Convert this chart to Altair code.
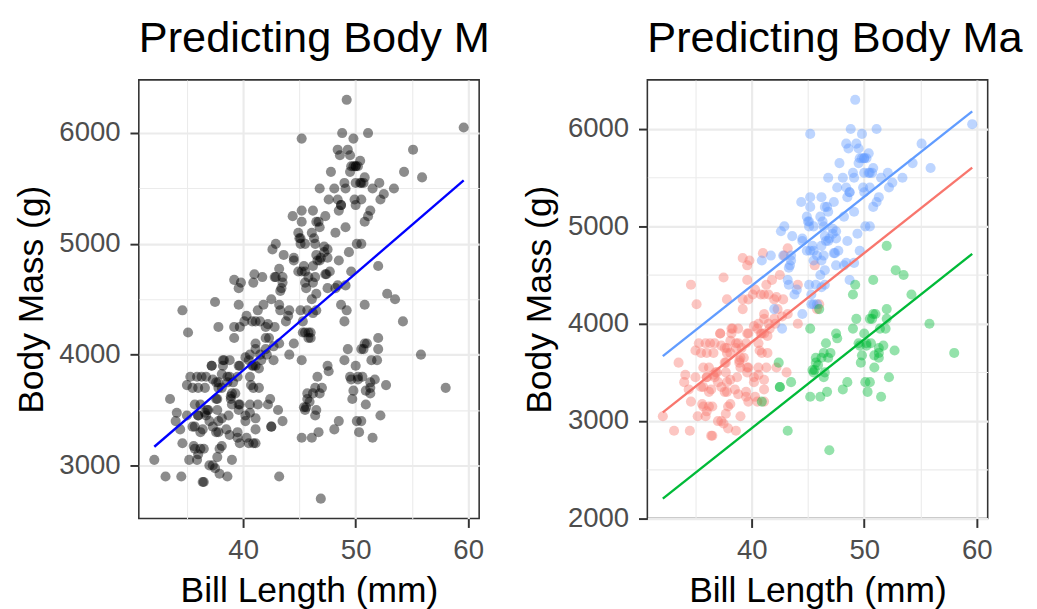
import altair as alt
import pandas as pd
import numpy as np

TITLE = "Predicting Body Mass from Bill Length"
X_TITLE = "Bill Length (mm)"
Y_TITLE = "Body Mass (g)"
FONT = "Liberation Sans"

species_names = ["Adelie", "Chinstrap", "Gentoo"]
species_colors = ["#F8766D", "#00BA38", "#619CFF"]

adelie_bill = [39.1, 39.5, 40.3, 36.7, 39.3, 38.9, 39.2, 34.1, 42.0, 37.8, 37.8, 41.1, 38.6, 34.6, 36.6, 38.7,
               42.5, 34.4, 46.0, 37.8, 37.7, 35.9, 38.2, 38.8, 35.3, 40.6, 40.5, 37.9, 40.5, 39.5, 37.2, 39.5,
               40.9, 36.4, 39.2, 38.8, 42.2, 37.6, 39.8, 36.5, 40.8, 36.0, 44.1, 37.0, 39.6, 41.1, 37.5, 36.0,
               42.3, 39.6, 40.1, 35.0, 42.0, 34.5, 41.4, 39.0, 40.6, 36.5, 37.6, 35.7, 41.3, 37.6, 41.1, 36.4,
               41.6, 35.5, 41.1, 35.9, 41.8, 33.5, 39.7, 39.6, 45.8, 35.5, 42.8, 40.9, 37.2, 36.2, 42.1, 34.6,
               42.9, 36.7, 35.1, 37.3, 41.3, 36.3, 36.9, 38.3, 38.9, 35.7, 41.1, 34.0, 39.6, 36.2, 40.8, 38.1,
               40.3, 33.1, 43.2, 35.0, 41.0, 37.7, 37.8, 37.9, 39.7, 38.6, 38.2, 38.1, 43.2, 38.1, 45.6, 39.7,
               42.2, 39.6, 42.7, 38.6, 37.3, 35.7, 41.1, 36.2, 37.7, 40.2, 41.4, 35.2, 40.6, 38.8, 41.5, 39.0,
               44.1, 38.5, 43.1, 36.8, 37.5, 38.1, 41.1, 35.6, 40.2, 37.0, 39.7, 40.2, 40.6, 32.1, 40.7, 37.3,
               39.0, 39.2, 36.6, 36.0, 37.8, 36.0, 41.5]
adelie_mass = [3750, 3800, 3250, 3450, 3650, 3625, 4675, 3475, 4250, 3300, 3700, 3200, 3800, 4400, 3700, 3450,
               4500, 3325, 4200, 3400, 3600, 3800, 3950, 3800, 3800, 3550, 3200, 3150, 3950, 3250, 3900, 3300,
               3900, 3325, 4150, 3950, 3550, 3300, 4650, 3150, 3900, 3100, 4400, 3000, 4600, 3425, 2975, 3450,
               4150, 3500, 4300, 3450, 4050, 2900, 3700, 3550, 3800, 2850, 3750, 3150, 4400, 3600, 4050, 2850,
               3950, 3350, 4100, 3050, 4450, 3600, 3900, 3550, 4150, 3700, 4250, 3700, 3900, 3550, 4000, 3200,
               4700, 3800, 4200, 3350, 3550, 3800, 3500, 3950, 3600, 3550, 4300, 3400, 4450, 3300, 4300, 3700,
               4350, 2900, 4100, 3725, 4725, 3075, 4250, 2925, 3550, 3750, 3900, 3175, 4775, 3825, 4600, 3200,
               4275, 3900, 4075, 2900, 3775, 3350, 3325, 3150, 3500, 3450, 3875, 3050, 4000, 3275, 4300, 3050,
               4000, 3325, 3500, 3500, 4475, 3425, 3900, 3175, 3975, 3400, 4250, 3400, 3475, 3050, 3725, 3000,
               3650, 4250, 3475, 3450, 3750, 3700, 4000]

gentoo_bill = [46.1, 50.0, 48.7, 50.0, 47.6, 46.5, 45.4, 46.7, 43.3, 46.8, 40.9, 49.0, 45.5, 48.4, 45.8, 49.3,
               42.0, 49.2, 46.2, 48.7, 50.2, 45.1, 46.5, 46.3, 42.9, 46.1, 44.5, 47.8, 48.2, 50.0, 47.3, 42.8,
               45.1, 59.6, 49.1, 48.4, 42.6, 44.4, 44.0, 48.7, 42.7, 49.6, 45.3, 49.6, 50.5, 43.6, 45.5, 50.5,
               44.9, 45.2, 46.6, 48.5, 45.1, 50.1, 46.5, 45.0, 43.8, 45.5, 43.2, 50.4, 45.3, 46.2, 45.7, 54.3,
               45.8, 49.8, 46.2, 49.5, 43.5, 50.7, 47.7, 46.4, 48.2, 46.5, 46.4, 48.6, 47.5, 51.1, 45.2, 45.2,
               49.1, 52.5, 47.4, 50.0, 44.9, 50.8, 43.4, 51.3, 47.5, 52.1, 47.5, 52.2, 45.5, 49.5, 44.5, 50.8,
               49.4, 46.9, 48.4, 51.1, 48.5, 55.9, 47.2, 49.1, 47.3, 46.8, 41.7, 53.4, 43.3, 48.1, 50.5, 49.8,
               43.5, 51.5, 46.2, 55.1, 44.5, 48.8, 47.2, 46.8, 50.4, 45.2, 49.9]
gentoo_mass = [4500, 5700, 4450, 5700, 5400, 4550, 4800, 5200, 4400, 5150, 4650, 5550, 4650, 5850, 4200, 5850,
               4150, 6300, 4800, 5350, 5700, 5000, 4400, 5050, 5000, 5100, 4100, 5650, 4600, 5550, 5250, 4700,
               5050, 6050, 5150, 5400, 4950, 5250, 4350, 5350, 3950, 5700, 4300, 4750, 5550, 4900, 4200, 5400,
               5100, 5300, 4850, 5300, 4400, 5000, 4900, 5050, 4300, 5000, 4450, 5550, 4200, 5300, 4400, 5650,
               4700, 5700, 4650, 5800, 4700, 5550, 4750, 5000, 5100, 5200, 4700, 5800, 4600, 6000, 4750, 5950,
               4625, 5450, 4725, 5350, 4750, 5600, 4600, 5300, 4875, 5550, 4950, 5400, 4750, 5650, 4850, 5200,
               4925, 4875, 4625, 5250, 4850, 5600, 4975, 5500, 4725, 5500, 4700, 5500, 4575, 5500, 5000, 5950,
               4650, 5500, 4375, 5850, 4875, 6000, 4925, 4850, 5750, 5200, 5400]

chinstrap_bill = [46.5, 50.0, 51.3, 45.4, 52.7, 45.2, 46.1, 51.3, 46.0, 51.3, 46.6, 51.7, 47.0, 52.0, 45.9, 50.5,
                  50.3, 58.0, 46.4, 49.2, 42.4, 48.5, 43.2, 50.6, 46.7, 52.0, 50.5, 49.5, 46.4, 52.8, 40.9, 54.2,
                  42.5, 51.0, 49.7, 47.5, 47.6, 52.0, 46.9, 53.5, 49.0, 46.2, 50.9, 45.5, 50.9, 50.8, 50.1, 49.0,
                  51.5, 49.8, 48.1, 51.4, 45.7, 50.7, 42.5, 52.2, 45.2, 49.3, 50.2, 45.6, 51.9, 46.8, 45.7, 55.8,
                  43.5, 49.6, 50.8, 50.2]
chinstrap_mass = [3500, 3900, 3650, 3525, 3725, 3950, 3250, 3750, 4150, 3700, 3800, 3775, 3700, 4050, 3575, 4050,
                  3300, 3700, 3450, 4400, 3600, 3400, 2900, 3800, 3300, 4150, 3400, 3800, 3700, 4550, 3200, 4300,
                  3350, 4100, 3600, 3900, 3850, 4800, 2700, 4500, 3950, 3650, 3550, 3500, 3675, 4450, 3400, 4300,
                  3250, 3675, 3325, 3950, 3600, 4050, 3350, 3450, 3250, 4050, 3800, 3525, 3950, 3650, 3650, 4000,
                  3400, 3775, 4100, 3775]

# data table (dataset order: Adelie, Gentoo, Chinstrap)
df = pd.concat([
    pd.DataFrame({"bill": adelie_bill, "mass": adelie_mass, "species": "Adelie"}),
    pd.DataFrame({"bill": gentoo_bill, "mass": gentoo_mass, "species": "Gentoo"}),
    pd.DataFrame({"bill": chinstrap_bill, "mass": chinstrap_mass, "species": "Chinstrap"}),
], ignore_index=True)

# parallel slopes model: mass ~ bill + species
X = np.column_stack([
    np.ones(len(df)), df["bill"].values,
    (df["species"] == "Chinstrap").astype(float).values,
    (df["species"] == "Gentoo").astype(float).values,
])
coef, *_ = np.linalg.lstsq(X, df["mass"].values.astype(float), rcond=None)
bmin, bmax = df["bill"].min(), df["bill"].max()
rows = []
for sp in species_names:
    off = {"Adelie": 0.0, "Chinstrap": coef[2], "Gentoo": coef[3]}[sp]
    for b in (bmin, bmax):
        rows.append({"bill": b, "mass": coef[0] + coef[1] * b + off, "species": sp})
fit_df = pd.DataFrame(rows)


def expand(lo, hi, f=0.05):
    r = hi - lo
    return [lo - f * r, hi + f * r]


x_dom = expand(bmin, bmax)
yL_dom = expand(df["mass"].min(), df["mass"].max())
yR_dom = expand(min(df["mass"].min(), fit_df["mass"].min()), max(df["mass"].max(), fit_df["mass"].max()))

x_ticks = [35, 40, 45, 50, 55, 60]
yL_ticks = [3000, 3500, 4000, 4500, 5000, 5500, 6000]
yR_ticks = [2000, 2500, 3000, 3500, 4000, 4500, 5000, 5500, 6000]

W, H = 346, 446


def make_axis(values, major, title):
    test = f"datum.value % {major} === 0"
    return alt.Axis(
        values=values, title=title, format="d",
        labelExpr=f"{test} ? datum.label : ''",
        gridWidth={"condition": {"test": test, "value": 2.2}, "value": 1.1},
        tickOpacity={"condition": {"test": test, "value": 1}, "value": 0},
    )


def title_layer(limit):
    return alt.Chart(pd.DataFrame({"t": [TITLE]})).mark_text(
        align="left", baseline="alphabetic", fontSize=44, font=FONT, color="black",
        limit=limit, ellipsis="\u200b"
    ).encode(x=alt.value(0), y=alt.value(-28), text="t:N")


xenc = alt.X("bill:Q", scale=alt.Scale(domain=x_dom, nice=False, zero=False),
             axis=make_axis(x_ticks, 10, X_TITLE))

# left panel
pts_l = alt.Chart(df).mark_circle(size=105, opacity=0.45, color="black").encode(
    x=xenc,
    y=alt.Y("mass:Q", scale=alt.Scale(domain=yL_dom, nice=False, zero=False),
            axis=make_axis(yL_ticks, 1000, Y_TITLE)),
)
line_l = alt.Chart(df).transform_regression("bill", "mass").mark_line(
    color="#0000FF", strokeWidth=2.4).encode(x="bill:Q", y="mass:Q")
left = alt.layer(pts_l, line_l, title_layer(364)).properties(width=W, height=H)

# right panel
color = alt.Color("species:N", scale=alt.Scale(domain=species_names, range=species_colors), legend=None)
pts_r = alt.Chart(df).mark_circle(size=105, opacity=0.42).encode(
    x=xenc,
    y=alt.Y("mass:Q", scale=alt.Scale(domain=yR_dom, nice=False, zero=False),
            axis=make_axis(yR_ticks, 1000, Y_TITLE)),
    color=color,
)
line_r = alt.Chart(fit_df).mark_line(strokeWidth=2.4).encode(
    x="bill:Q", y="mass:Q", color=color, detail="species:N")
right = alt.layer(pts_r, line_r, title_layer(386)).properties(width=W, height=H)

chart = alt.hconcat(left, right, spacing=30).properties(
    padding={"left": 4, "top": 4, "right": 5, "bottom": 5}
).configure_view(
    stroke="#333333", strokeWidth=1.6
).configure_axis(
    domain=False, grid=True, gridColor="#EBEBEB",
    tickColor="#333333", tickWidth=2, tickSize=9,
    labelFont=FONT, labelFontSize=28, labelColor="#4D4D4D", labelPadding=10,
    titleFont=FONT, titleFontSize=36, titleFontWeight="normal", titleColor="black",
    titlePadding=9,
)

chart.save("out.html", embed_options={"renderer": "svg", "actions": False})
